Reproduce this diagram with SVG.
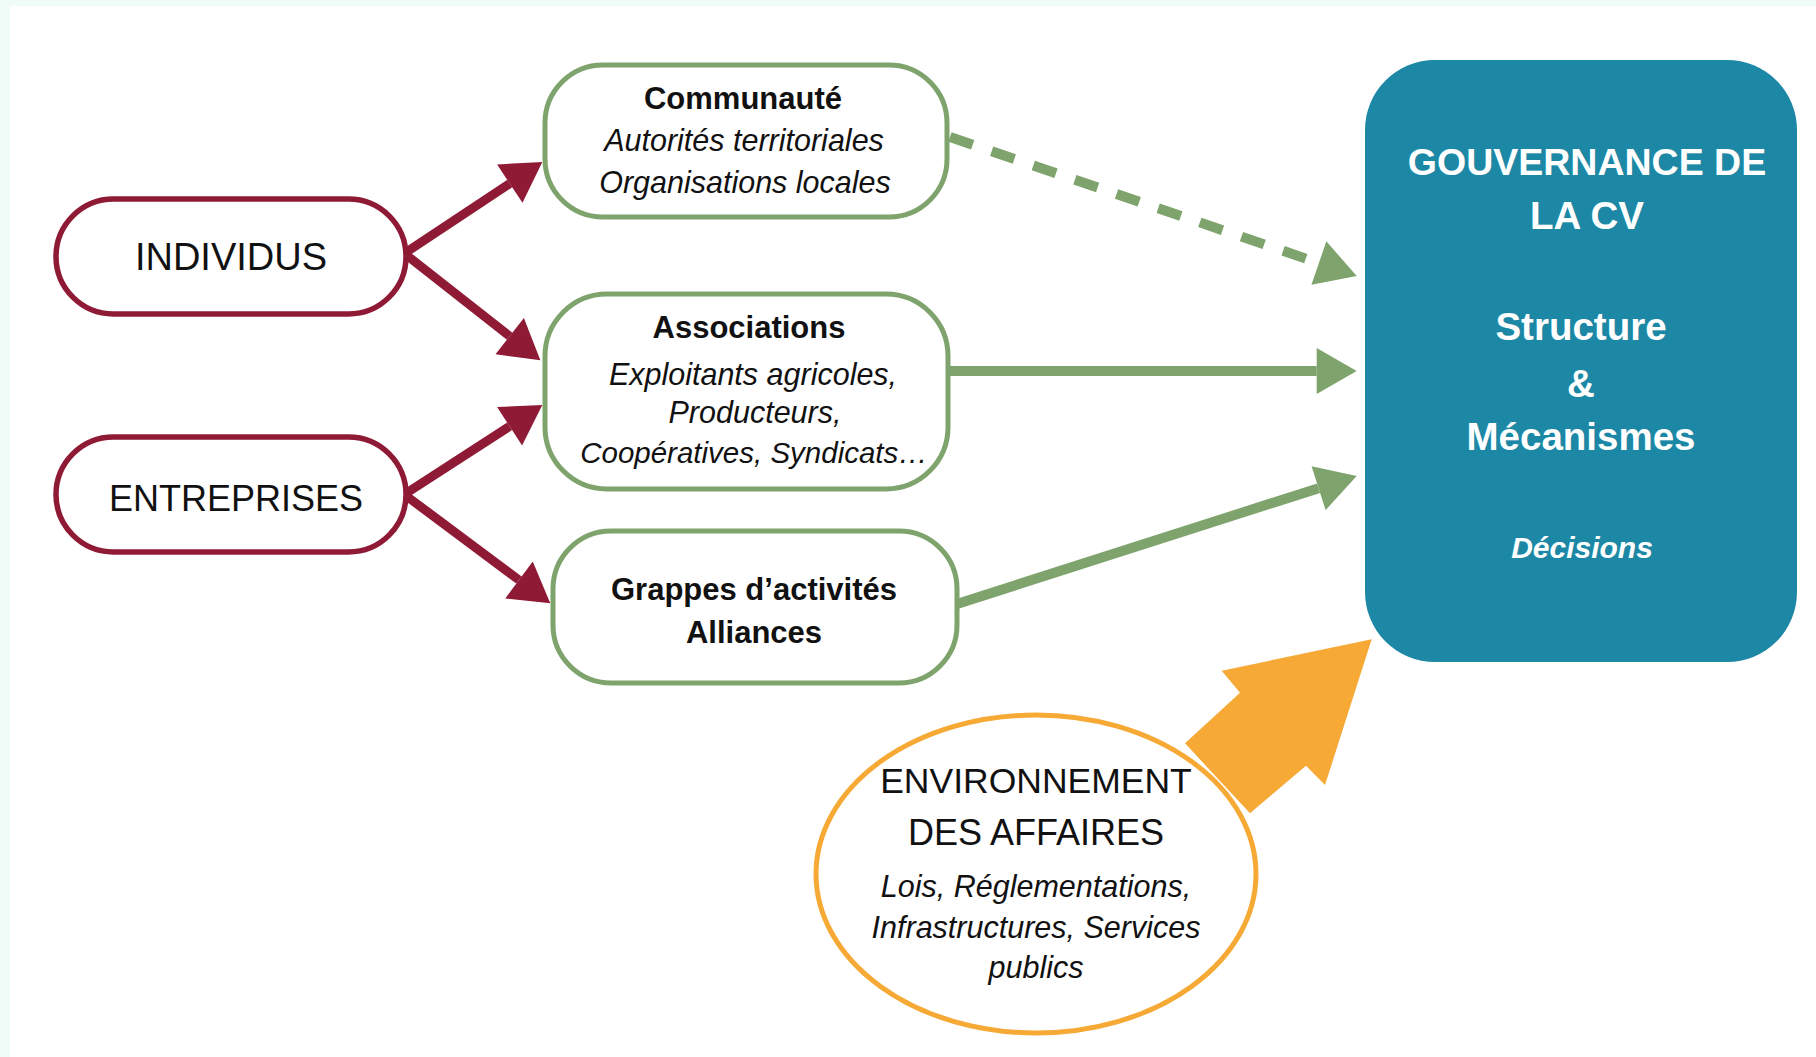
<svg xmlns="http://www.w3.org/2000/svg" width="1816" height="1057" viewBox="0 0 1816 1057">
<defs>
<style>
text{font-family:"Liberation Sans",Arial,sans-serif;fill:#111;text-anchor:middle}
.cap{font-size:36px}
.b{font-weight:bold;font-size:31px}
.i{font-style:italic;font-size:30.5px}
.w{fill:#fff;font-weight:bold;font-size:38.5px}
.wi{fill:#fff;font-weight:bold;font-style:italic;font-size:30px}
.pill{fill:#fff;stroke:#8f1a36;stroke-width:5.5}
.gbox{fill:#fff;stroke:#7fa36c;stroke-width:5}
.red{stroke:#8f1a36;stroke-width:9;fill:none}
.grn{stroke:#7fa36c;stroke-width:10;fill:none}
</style>
<marker id="hr" markerUnits="userSpaceOnUse" markerWidth="40" markerHeight="46" refX="0" refY="23" orient="auto" overflow="visible">
<path d="M0,0 L39,23 L0,46 z" fill="#8f1a36"/>
</marker>
<marker id="hg" markerUnits="userSpaceOnUse" markerWidth="41" markerHeight="46" refX="0" refY="23" orient="auto" overflow="visible">
<path d="M0,0 L40,23 L0,46 z" fill="#7fa36c"/>
</marker>
</defs>
<rect x="0" y="0" width="1816" height="1057" fill="#effcf8"/>
<rect x="10" y="6" width="1806" height="1051" fill="#fff"/>

<g id="connectors">
<line class="red" x1="405" y1="253" x2="509.8" y2="183.6" marker-end="url(#hr)"/>
<line class="red" x1="405" y1="254" x2="509.7" y2="336.2" marker-end="url(#hr)"/>
<line class="red" x1="405" y1="494" x2="509.6" y2="426.3" marker-end="url(#hr)"/>
<line class="red" x1="405" y1="495" x2="519" y2="580" marker-end="url(#hr)"/>
<line class="grn" x1="950" y1="137" x2="1318.9" y2="263.1" stroke-width="11" stroke-dasharray="24 20" marker-end="url(#hg)"/>
<line class="grn" x1="948" y1="371" x2="1316.7" y2="371" marker-end="url(#hg)"/>
<line class="grn" x1="957" y1="604" x2="1318.6" y2="488.2" marker-end="url(#hg)"/>
<polygon points="1371.7,639.3 1221.7,670.7 1240,692.7 1185,743.3 1250,813.3 1306,765.7 1325,785" fill="#f6a935"/>
</g>

<g id="individus">
<rect class="pill" x="56" y="199" width="350" height="115" rx="57.5"/>
<text class="cap" x="231" y="270" style="font-size:38px">INDIVIDUS</text>
</g>
<g id="entreprises">
<rect class="pill" x="56" y="437" width="350" height="115" rx="57.5"/>
<text class="cap" x="236" y="511">ENTREPRISES</text>
</g>

<g id="communaute">
<rect class="gbox" x="545" y="65" width="402" height="152" rx="58"/>
<text class="b" x="743" y="109">Communauté</text>
<text class="i" x="744" y="151">Autorités territoriales</text>
<text class="i" x="745" y="193">Organisations locales</text>
</g>
<g id="associations">
<rect class="gbox" x="545" y="294" width="403" height="195" rx="62"/>
<text class="b" x="749" y="338">Associations</text>
<text class="i" x="753" y="385">Exploitants agricoles,</text>
<text class="i" x="755" y="423">Producteurs,</text>
<text class="i" x="754" y="463" style="font-size:29.5px">Coopératives, Syndicats…</text>
</g>
<g id="grappes">
<rect class="gbox" x="553" y="531" width="404" height="152" rx="58"/>
<text class="b" x="754" y="600">Grappes d’activités</text>
<text class="b" x="754" y="643">Alliances</text>
</g>

<g id="gouvernance">
<rect x="1365" y="60" width="432" height="602" rx="70" fill="#1c88a6"/>
<text class="w" x="1587" y="175" style="font-size:37.5px">GOUVERNANCE DE</text>
<text class="w" x="1587" y="229">LA CV</text>
<text class="w" x="1581" y="340">Structure</text>
<text class="w" x="1581" y="397">&amp;</text>
<text class="w" x="1581" y="450">Mécanismes</text>
<text class="wi" x="1582" y="558">Décisions</text>
</g>

<g id="environnement">
<ellipse cx="1036" cy="874" rx="220" ry="159" fill="#fff" stroke="#f6a935" stroke-width="5"/>
<text class="cap" x="1036" y="793" style="font-size:35.5px">ENVIRONNEMENT</text>
<text class="cap" x="1036" y="845">DES AFFAIRES</text>
<text class="i" x="1036" y="897">Lois, Réglementations,</text>
<text class="i" x="1036" y="938">Infrastructures, Services</text>
<text class="i" x="1036" y="978">publics</text>
</g>
</svg>
